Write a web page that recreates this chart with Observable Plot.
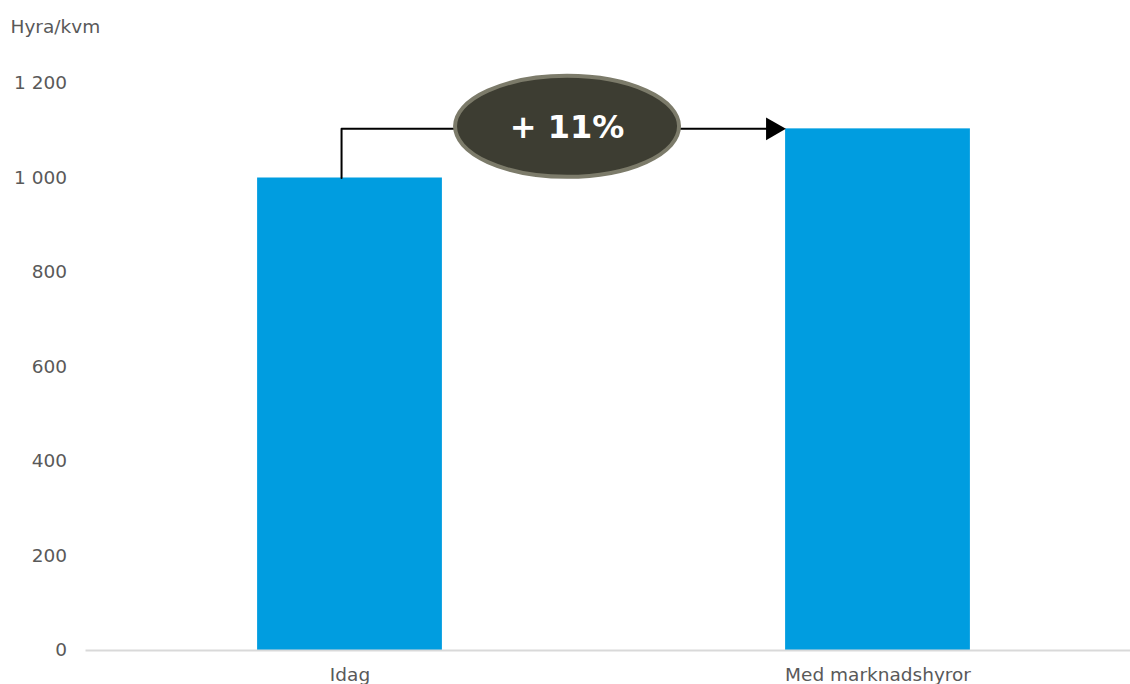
<!DOCTYPE html>
<html>
<head>
<meta charset="utf-8">
<script src="https://cdn.jsdelivr.net/npm/d3@7"></script>
<script src="https://cdn.jsdelivr.net/npm/@observablehq/plot@0.6"></script>
<style>
  html, body { margin: 0; padding: 0; background: #fff; }
  #chart svg { display: block; }
</style>
</head>
<body>
<div id="chart"></div>
<script>
// Data
const categories = ["Idag", "Med marknadshyror"];
const values = [1000, 1104];
const yTicks = [0, 200, 400, 600, 800, 1000, 1200];
const yLabel = "Hyra/kvm";
const changeLabel = "+ 11%";

const data = categories.map((c, i) => ({ pos: i, cat: c, value: values[i] }));

const font = "'DejaVu Sans', Verdana, sans-serif";
const half = 0.175;          // half bar width in category units
const connX = -0.016;        // connector start (category units)
const ovalX = 0.412;         // oval center (category units)
const arrowEnd = 0.8155;     // arrow tip (category units)

const fmt = d => d3.format(",")(d).replace(/,/g, "\u00a0");

const chart = Plot.plot({
  width: 1130,
  height: 684,
  marginTop: 83,
  marginBottom: 34,
  marginLeft: 85.5,
  marginRight: 0,
  style: { fontFamily: font, fontSize: "18.5px", color: "#595959", background: "#fff" },
  x: { type: "linear", domain: [-0.5, 1.5], range: [85.5, 1141.5] },
  y: { domain: [0, 1200] },
  marks: [
    Plot.rectY(data, { x1: d => d.pos - half, x2: d => d.pos + half, y1: 0, y2: "value", fill: "#009de0" }),
    Plot.ruleY([0], { stroke: "#d9d9d9", strokeWidth: 2 }),
    Plot.axisY({ ticks: yTicks, tickSize: 0, tickPadding: 19, tickFormat: fmt, label: null, fill: "#595959", fontSize: 18.5 }),
    Plot.axisX({ ticks: [0, 1], tickSize: 0, tickPadding: 17, tickFormat: d => categories[d], label: null, fill: "#595959", fontSize: 18.5 }),
    Plot.text([yLabel], { frameAnchor: "top-left", dx: -75.5, dy: -64, textAnchor: "start", fill: "#595959", fontSize: 18.5 }),
    // connector
    Plot.line([
      { x: connX, y: values[0] },
      { x: connX, y: values[1] },
      { x: arrowEnd - 0.02, y: values[1] }
    ], { x: "x", y: "y", stroke: "#000", strokeWidth: 2, curve: "linear" }),
    Plot.dot([{ x: arrowEnd - 0.015, y: values[1] }], { x: "x", y: "y", symbol: "triangle", rotate: 90, r: 8.5, fill: "#000", stroke: null })
  ]
});

document.getElementById("chart").appendChild(chart);

// Oval annotation placed via the plot's scales
const sx = chart.scale("x"), sy = chart.scale("y");
const svg = d3.select(chart.tagName.toLowerCase() === "svg" ? chart : chart.querySelector("svg"));
const cx = sx.apply(ovalX), cy = sy.apply(values[1]) - 2;
svg.append("ellipse")
  .attr("cx", cx).attr("cy", cy)
  .attr("rx", 112).attr("ry", 50.5)
  .attr("fill", "#3d3d32")
  .attr("stroke", "#7c7b6a")
  .attr("stroke-width", 4);
svg.append("text")
  .attr("x", cx).attr("y", cy)
  .attr("text-anchor", "middle")
  .attr("dy", "0.36em")
  .attr("fill", "#fff")
  .attr("font-family", font)
  .attr("font-weight", "bold")
  .attr("font-size", 32)
  .text(changeLabel);
</script>
</body>
</html>
